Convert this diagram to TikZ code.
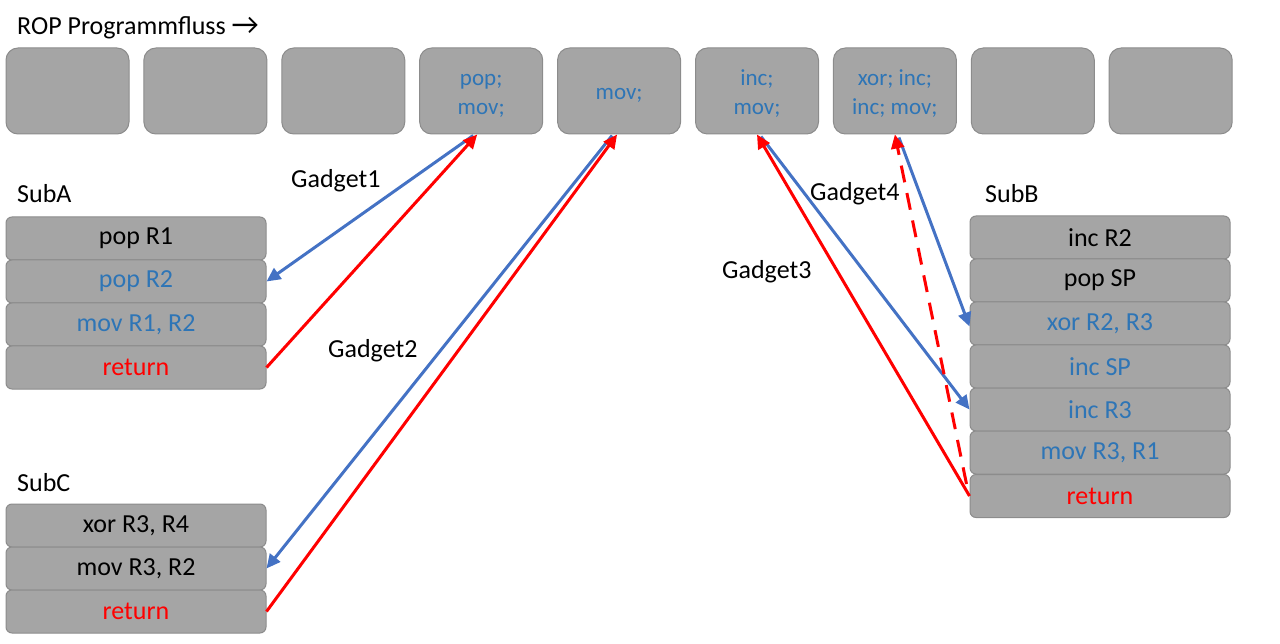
\documentclass[tikz,border=0pt]{standalone}
\usepackage{fontspec}
\setmainfont{Carlito}
\usetikzlibrary{arrows.meta}
\definecolor{boxfill}{HTML}{A5A5A5}
\definecolor{boxline}{HTML}{8C8C8C}
\definecolor{txtblue}{HTML}{2E75B6}
\definecolor{arrblue}{HTML}{4472C4}
\definecolor{arrred}{HTML}{FF0000}
\newcommand{\topstrut}{\rule{0pt}{20pt}}
\tikzset{
  topbox/.style={draw=boxline, line width=1pt, fill=boxfill, rounded corners=12pt,
    minimum width=123pt, minimum height=86pt, inner sep=0pt, align=center,
    font=\fontsize{23}{29}\selectfont, text=txtblue},
  subbox/.style={draw=boxline, line width=1pt, fill=boxfill, rounded corners=6pt,
    minimum width=260pt, minimum height=43pt, inner sep=0pt,
    font=\fontsize{26}{30}\selectfont},
  lbl/.style={anchor=base west, inner sep=0pt, font=\fontsize{26}{30}\selectfont},
  bluearr/.style={draw=arrblue, line width=3pt, -{Triangle[length=14pt,width=13pt]}},
  redarr/.style={draw=arrred, line width=3pt, -{Triangle[length=14pt,width=13pt]}},
  reddash/.style={redarr, dash pattern=on 17pt off 11pt},
}
\begin{document}
\begin{tikzpicture}[x=1pt,y=-1pt]
\useasboundingbox (0,0) rectangle (1280,644);
% title
\node[lbl] (title) at (17,35) {ROP Programmfluss {\fontsize{30}{30}\selectfont →}};
% top row
\node[topbox] (t1) at (67.5,91) {};
\node[topbox] (t2) at (205.4,91) {};
\node[topbox] (t3) at (343.3,91) {};
\node[topbox] (t4) at (481.2,91) {\topstrut pop;\\mov;};
\node[topbox] (t5) at (619.1,91) {\topstrut mov;};
\node[topbox] (t6) at (757.0,91) {\topstrut inc;\\mov;};
\node[topbox] (t7) at (894.9,91) {\topstrut xor; inc;\\inc; mov;};
\node[topbox] (t8) at (1032.8,91) {};
\node[topbox] (t9) at (1170.7,91) {};
% SubA
\node[lbl] (subA) at (17,203) {SubA};
\node[subbox] (a1) at (136,238.5) {pop R1};
\node[subbox, text=txtblue] (a2) at (136,281.5) {pop R2};
\node[subbox, text=txtblue] (a3) at (136,324.5) {mov R1, R2};
\node[subbox, text=arrred] (a4) at (136,367.5) {return};
% SubC
\node[lbl] (subC) at (17,491) {SubC};
\node[subbox] (c1) at (136,525.5) {xor R3, R4};
\node[subbox] (c2) at (136,568.5) {mov R3, R2};
\node[subbox, text=arrred] (c3) at (136,611.5) {return};
% SubB
\node[lbl] (subB) at (985,203) {SubB};
\node[subbox] (b1) at (1100,237.5) {inc R2};
\node[subbox] (b2) at (1100,280.5) {pop SP};
\node[subbox, text=txtblue] (b3) at (1100,323.5) {xor R2, R3};
\node[subbox, text=txtblue] (b4) at (1100,366.5) {inc SP};
\node[subbox, text=txtblue] (b5) at (1100,409.5) {inc R3};
\node[subbox, text=txtblue] (b6) at (1100,452.5) {mov R3, R1};
\node[subbox, text=arrred] (b7) at (1100,496) {return};
% gadget labels
\node[lbl] (g1) at (291,188) {Gadget1};
\node[lbl] (g2) at (328,358) {Gadget2};
\node[lbl] (g3) at (722,279) {Gadget3};
\node[lbl] (g4) at (810,201) {Gadget4};
% Gadget1
\draw[bluearr] ([xshift=-8pt,yshift=-1pt]t4.south) -- (a2.east);
\draw[redarr] (a4.east) -- ([xshift=-4pt]t4.south);
% Gadget2
\draw[bluearr] ([xshift=-7pt,yshift=-1pt]t5.south) -- (c2.east);
\draw[redarr] (c3.east) -- ([xshift=-2pt]t5.south);
% Gadget3
\draw[bluearr] ([xshift=4pt,yshift=-2pt]t6.south) -- (b5.west);
\draw[redarr] (b7.west) -- (t6.south);
% Gadget4
\draw[bluearr] ([xshift=4pt,yshift=-3pt]t7.south) -- ([yshift=-3pt]b3.west);
\draw[reddash] ([xshift=-3pt,yshift=-10pt]b7.north west) -- (t7.south);
\end{tikzpicture}
\end{document}
